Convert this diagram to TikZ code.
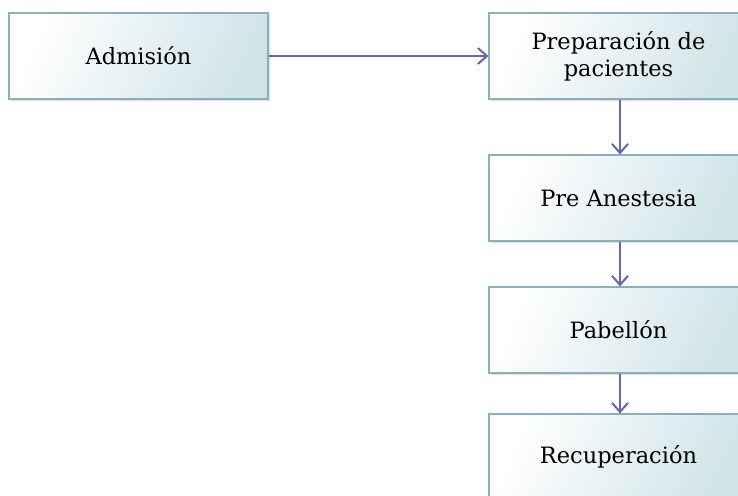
\documentclass[tikz,border=0pt]{standalone}
\usepackage{fontspec}
\setmainfont{DejaVu Serif}
\usetikzlibrary{arrows.meta,shadows}
\definecolor{boxborder}{RGB}{135,178,186}
\definecolor{boxfill}{RGB}{208,228,232}
\definecolor{arrowcol}{RGB}{104,102,168}
\tikzset{
  procbox/.style={draw=boxborder, line width=1.2pt, shading=axis, left color=white, right color=boxfill, shading angle=65,
    minimum width=259pt, minimum height=86pt, align=center, font=\fontsize{22.5}{27}\selectfont, inner sep=0pt,
    drop shadow={opacity=0.25, shadow xshift=1.5pt, shadow yshift=-1.5pt}},
  flow/.style={draw=arrowcol, line width=2pt, -{Straight Barb[length=9pt, width=16pt, line width=2pt]}}
}
\begin{document}
\begin{tikzpicture}[x=1pt,y=-1pt]
\useasboundingbox (0,0) rectangle (738,495);
\clip (0,0) rectangle (738,495);
\fill[white] (0,0) rectangle (738,495);
\node[procbox] (adm) at (138.5,56) {Admisión};
\node[procbox] (prep) at (618.5,56) {Preparación de\\pacientes};
\node[procbox] (pre) at (618.5,198) {Pre Anestesia};
\node[procbox] (pab) at (618.5,330) {Pabellón};
\node[procbox] (rec) at (618.5,457) {Recuperación};
\draw[flow] (adm.east) -- (prep.west);
\draw[flow] (prep.south -| 620,0) -- (pre.north -| 620,0);
\draw[flow] (pre.south -| 620,0) -- (pab.north -| 620,0);
\draw[flow] (pab.south -| 620,0) -- (rec.north -| 620,0);
\end{tikzpicture}
\end{document}
